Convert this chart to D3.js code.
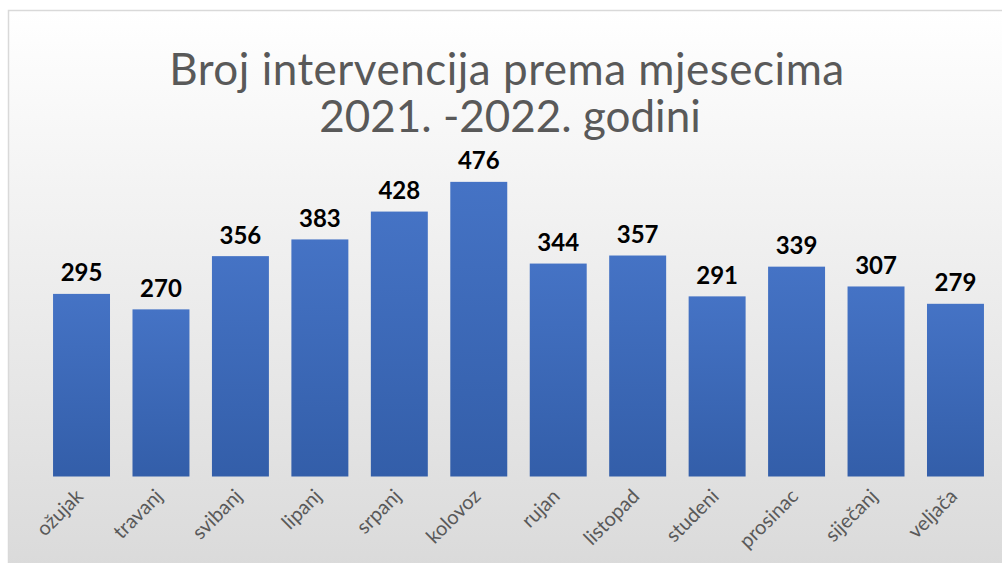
<!DOCTYPE html>
<html>
<head>
<meta charset="utf-8">
<script src="https://cdn.jsdelivr.net/npm/d3@7"></script>
<style>
  html, body { margin: 0; padding: 0; background: #fff; overflow: hidden; }
  svg { display: block; }
</style>
</head>
<body>
<script>
const months = ["ožujak", "travanj", "svibanj", "lipanj", "srpanj", "kolovoz",
                "rujan", "listopad", "studeni", "prosinac", "siječanj", "veljača"];
const counts = [295, 270, 356, 383, 428, 476, 344, 357, 291, 339, 307, 279];
const titleLines = ["Broj intervencija prema mjesecima", "2021. -2022. godini"];

const width = 1002, height = 563;
const svg = d3.select("body").append("svg").attr("width", width).attr("height", height);

const defs = svg.append("defs");
const bg = defs.append("linearGradient").attr("id", "bg").attr("x1", 0).attr("y1", 0).attr("x2", 0).attr("y2", 1);
bg.append("stop").attr("offset", "0%").attr("stop-color", "#ffffff");
bg.append("stop").attr("offset", "100%").attr("stop-color", "#d9d9d9");
const barGrad = defs.append("linearGradient").attr("id", "barGrad").attr("x1", 0).attr("y1", 0).attr("x2", 0).attr("y2", 1);
barGrad.append("stop").attr("offset", "0%").attr("stop-color", "#4573c5");
barGrad.append("stop").attr("offset", "100%").attr("stop-color", "#335ea9");

// chart area background + border
svg.append("rect")
   .attr("x", 8.5).attr("y", 10.5)
   .attr("width", width + 10).attr("height", height + 10)
   .attr("fill", "url(#bg)")
   .attr("stroke", "#d9d9d9")
   .attr("stroke-width", 1.5);

// scales
const x = d3.scaleBand().domain(months).range([41.8, 995.2]).paddingInner(0.283).paddingOuter(0.1415);
const y = d3.scaleLinear().domain([0, 500]).range([476.5, 167]);

// title
svg.append("text")
   .attr("x", 507).attr("y", 85)
   .attr("text-anchor", "middle")
   .attr("font-family", "Lato, sans-serif")
   .attr("font-size", 44)
   .attr("fill", "#595959")
   .selectAll("tspan")
   .data(titleLines).enter()
   .append("tspan")
   .attr("x", (d, i) => i === 0 ? 507 : 510)
   .attr("dy", (d, i) => i === 0 ? 0 : 47)
   .attr("letter-spacing", (d, i) => i === 0 ? 0.5 : 0)
   .text(d => d);

// bars
svg.selectAll("rect.bar")
   .data(counts).enter()
   .append("rect")
   .attr("class", "bar")
   .attr("x", (d, i) => x(months[i]))
   .attr("y", d => y(d))
   .attr("width", x.bandwidth())
   .attr("height", d => y(0) - y(d))
   .attr("fill", "url(#barGrad)");

// value labels
svg.selectAll("text.val")
   .data(counts).enter()
   .append("text")
   .attr("class", "val")
   .attr("x", (d, i) => x(months[i]) + x.bandwidth() / 2)
   .attr("y", d => y(d) - 12.5)
   .attr("text-anchor", "middle")
   .attr("font-family", "Lato, sans-serif")
   .attr("font-weight", "bold")
   .attr("font-size", 24)
   .attr("fill", "#000")
   .text(d => d);

// x axis labels
const xAxis = d3.axisBottom(x).tickSize(0).tickPadding(0);
const gx = svg.append("g")
   .attr("transform", `translate(0, ${y(0)})`)
   .call(xAxis);
gx.select(".domain").remove();
gx.selectAll("text")
   .attr("font-family", "Lato, sans-serif")
   .attr("font-size", 20)
   .attr("fill", "#595959")
   .attr("text-anchor", "end")
   .attr("dy", 0)
   .attr("transform", "translate(3, 21) rotate(-45)");
</script>
</body>
</html>
